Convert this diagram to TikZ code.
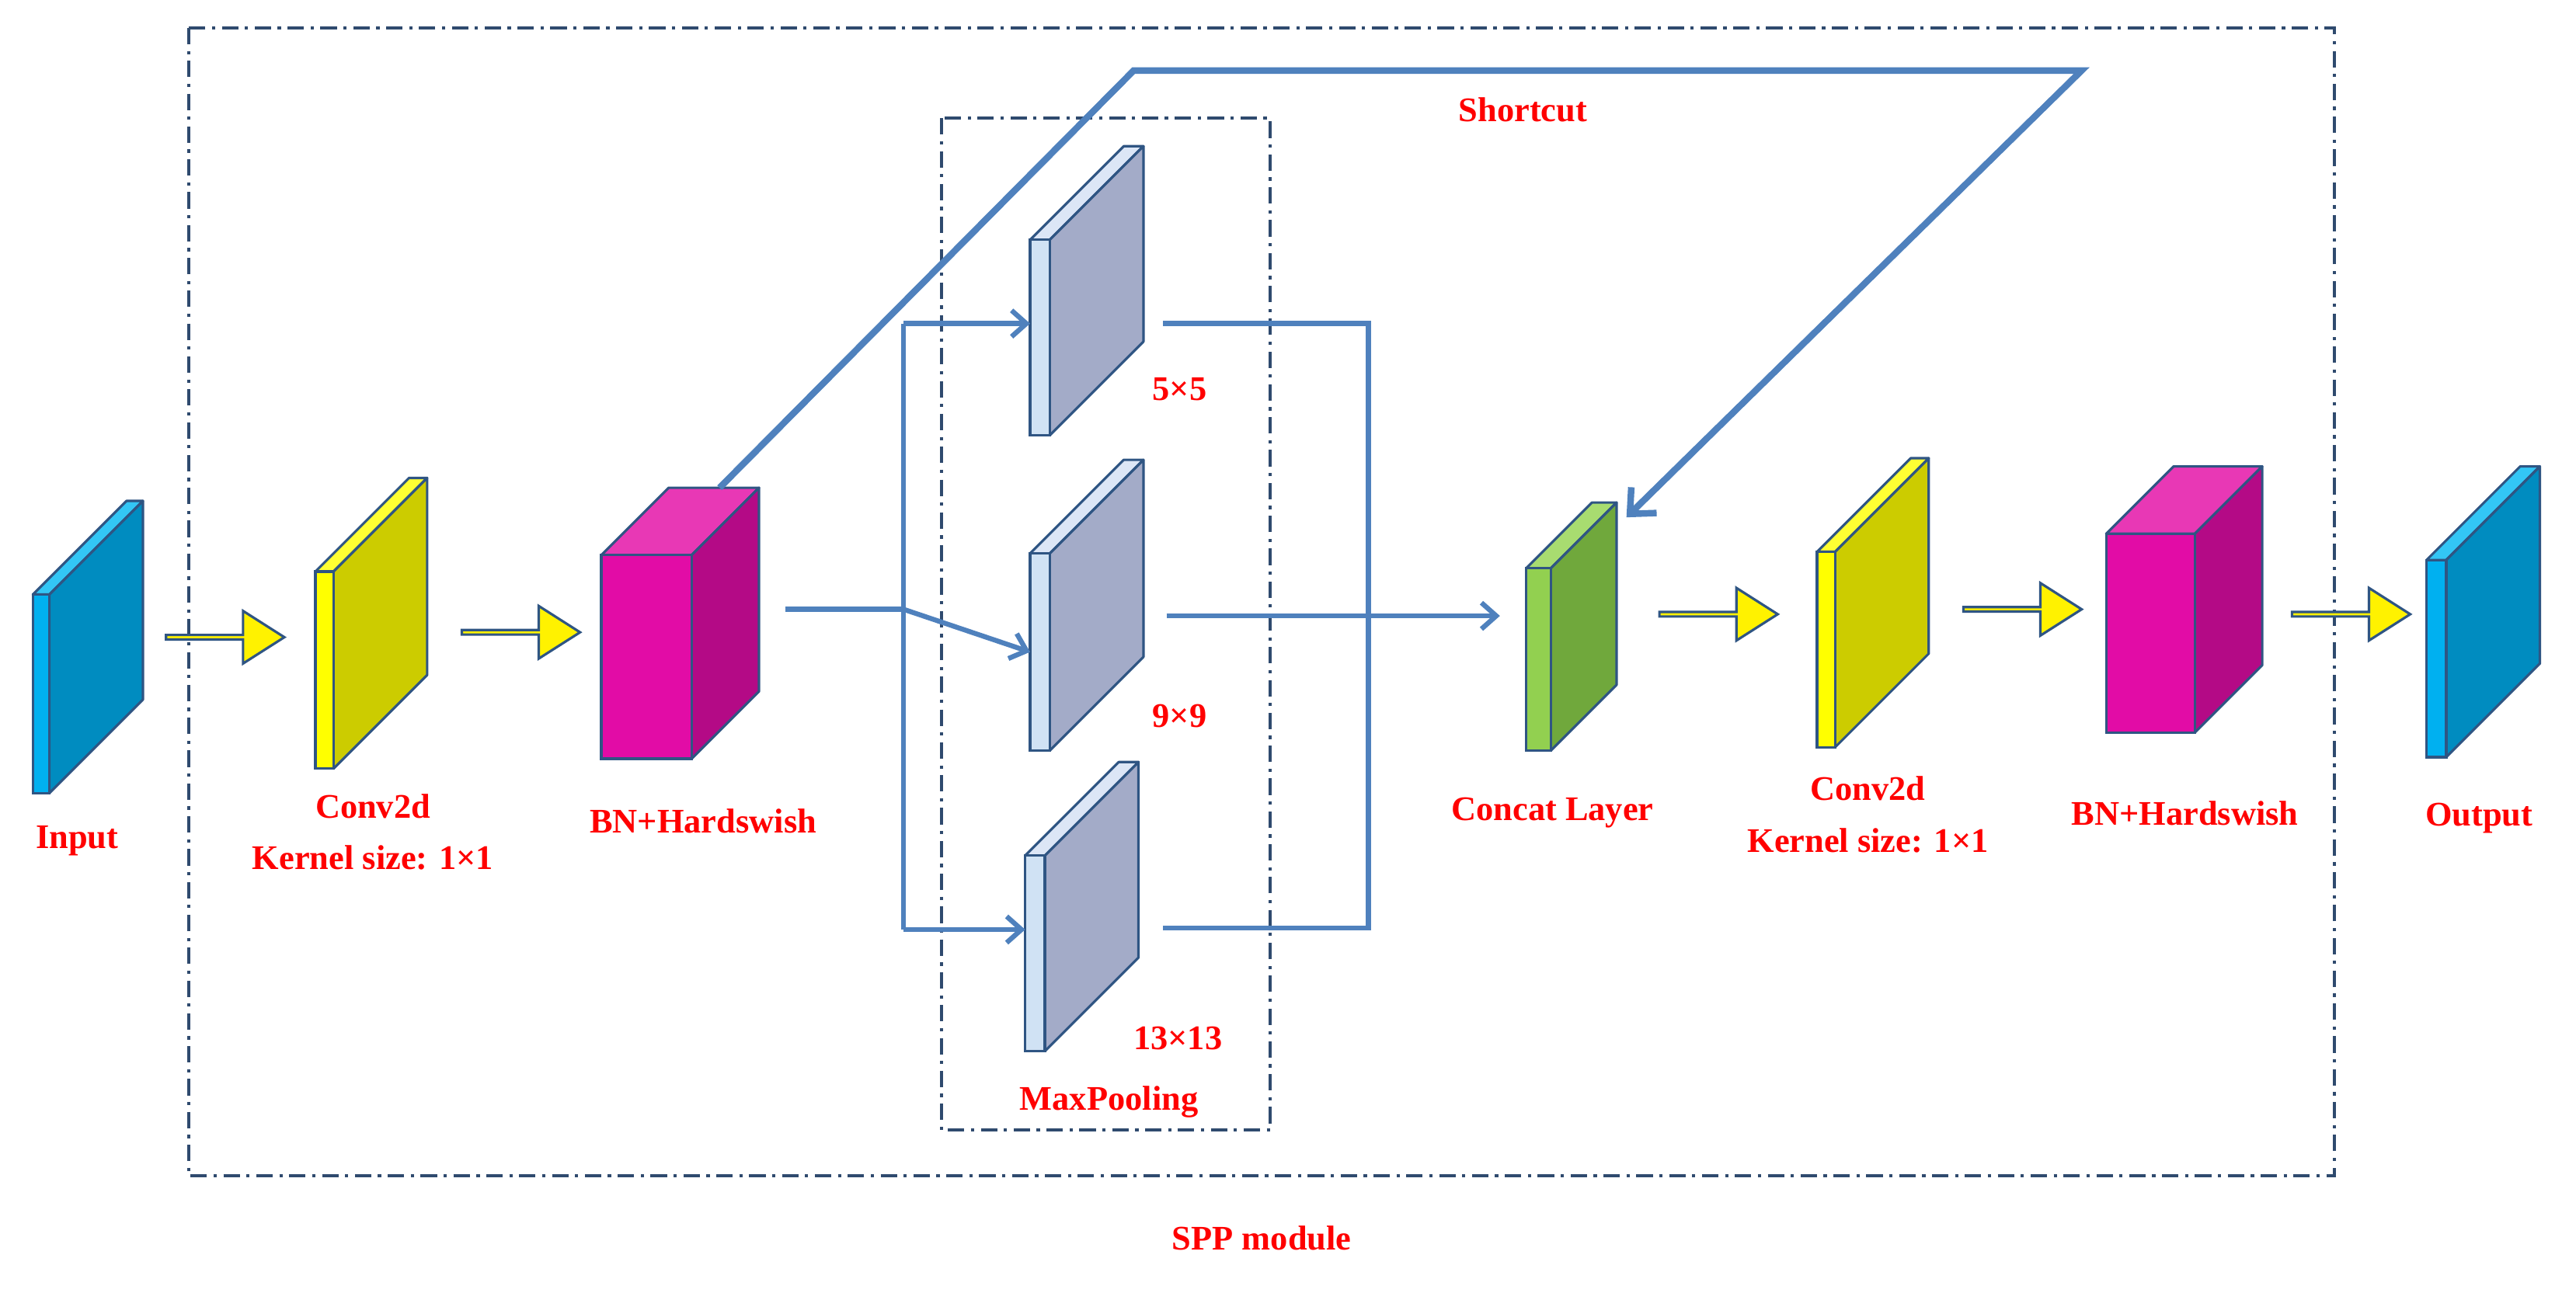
\documentclass[tikz,border=0pt]{standalone}
\usepackage{fontspec}
\setmainfont{Liberation Serif}
\usetikzlibrary{shapes.arrows,arrows.meta}
\definecolor{edge}{HTML}{2F5583}
\definecolor{dd}{HTML}{2F4A6E}
\definecolor{lb}{HTML}{4F81BD}
\definecolor{tred}{HTML}{FF0000}
\definecolor{cyF}{HTML}{00B0F0}\definecolor{cyS}{HTML}{008CC0}\definecolor{cyT}{HTML}{33C6F5}
\definecolor{yeF}{HTML}{FFFF00}\definecolor{yeS}{HTML}{CCCC00}\definecolor{yeT}{HTML}{FFFF33}
\definecolor{mgF}{HTML}{E20CA6}\definecolor{mgS}{HTML}{B40A86}\definecolor{mgT}{HTML}{E838B5}
\definecolor{plF}{HTML}{D0E2F4}\definecolor{plS}{HTML}{A3ABC8}\definecolor{plT}{HTML}{DCE6F6}
\definecolor{grF}{HTML}{92D050}\definecolor{grS}{HTML}{70A83C}\definecolor{grT}{HTML}{A8DC70}
\begin{document}
\begin{tikzpicture}[x=1pt,y=-1pt,
  lbl/.style={text=tred,font=\bfseries\fontsize{21}{23}\selectfont,inner sep=0},
  yarrow/.style={single arrow,fill=yellow,draw=edge,line width=1.5pt,minimum height=72pt,minimum width=32pt,single arrow head extend=8pt,single arrow tip angle=65,inner sep=0},
  conn/.style={draw=lb,line width=3pt},
  ddash/.style={draw=dd,line width=2pt,dash pattern=on 10pt off 4pt on 2pt off 4pt}]
\useasboundingbox (0,0) rectangle (1568,787);
\newcommand\slab[9]{%
  \filldraw[fill=#9,draw=edge,line width=1.5pt,line join=round] (#2,#3) -- ++(#6,-#6) -- ++(#4,0) -- ({#2+#4},#3) -- cycle;
  \filldraw[fill=#8,draw=edge,line width=1.5pt,line join=round] ({#2+#4},#3) -- ++(#6,-#6) -- ++(0,#5) -- ({#2+#4},{#3+#5}) -- cycle;
  \node[draw=edge,fill=#7,line width=1.5pt,minimum width=#4pt,minimum height=#5pt,inner sep=0,outer sep=0,anchor=north west] (#1) at (#2,#3) {};}
% boxes
\draw[ddash] (115,17) rectangle (1421,716);
\draw[ddash] (573,72) rectangle (773,688);
% slabs
\slab{in}{20}{362}{10}{121}{57}{cyF}{cyS}{cyT}
\slab{cv1}{192}{348}{11}{120}{57}{yeF}{yeS}{yeT}
\slab{bn1}{366}{338}{55}{124}{41}{mgF}{mgS}{mgT}
\slab{p1}{627}{146}{12}{119}{57}{plF}{plS}{plT}
\slab{p2}{627}{337}{12}{120}{57}{plF}{plS}{plT}
\slab{p3}{624}{521}{12}{119}{57}{plF}{plS}{plT}
\slab{cc}{929}{346}{15}{111}{40}{grF}{grS}{grT}
\slab{cv2}{1106}{336}{11}{119}{57}{yeF}{yeS}{yeT}
\slab{bn2}{1282}{325}{54}{121}{41}{mgF}{mgS}{mgT}
\slab{out}{1477}{341}{12}{120}{57}{cyF}{cyS}{cyT}
% yellow arrows
\node[yarrow] (a1) at (136,388) {};
\node[yarrow] (a2) at (316,385) {};
\node[yarrow] (a3) at (1045,374) {};
\node[yarrow] (a4) at (1230,371) {};
\node[yarrow] (a5) at (1430,374) {};
% connectors
\coordinate (s0) at (478,371);
\coordinate (j) at (550,371);
\coordinate (jt) at (550,197);
\coordinate (jb) at (550,566);
\coordinate (o1) at (708,197);
\coordinate (o2) at (710,375);
\coordinate (o3) at (708,565);
\coordinate (k1) at (833,197);
\coordinate (k3) at (833,565);
\coordinate (cin) at (913,375);
\draw[conn] (s0) -- (j);
\draw[conn,-{Straight Barb[length=9pt,width=16pt]}] (j) -- (p2.west);
\draw[conn,-{Straight Barb[length=9pt,width=16pt]}] (jt) -- (jt -| p1.west);
\draw[conn,-{Straight Barb[length=9pt,width=16pt]}] (jb) -- (jb -| p3.west);
\draw[conn] (jt) -- (jb);
\draw[conn] (o1) -- (k1) -- (k3) -- (o3);
\draw[conn,-{Straight Barb[length=9pt,width=16pt]}] (o2) -- (cin);
\coordinate (sc0) at (438,297);
\coordinate (sc1) at (690,43);
\coordinate (sc2) at (1267,43);
\coordinate (sc3) at (990,315);
\draw[conn,line width=4pt,-{Straight Barb[length=12pt,width=22pt]}] (sc0) -- (sc1) -- (sc2) -- (sc3);
% labels
\node[lbl] (t1) at (47,512) {Input};
\node[lbl] (t2) at (227,491) {Conv2d};
\node[lbl] (t3) at (227,522) {Kernel size: 1×1};
\node[lbl] (t4) at (428,500) {BN+Hardswish};
\node[lbl] (t5) at (718,237) {5×5};
\node[lbl] (t6) at (718,436) {9×9};
\node[lbl] (t7) at (717,632) {13×13};
\node[lbl] (t8) at (675,671) {MaxPooling};
\node[lbl] (t9) at (927,67) {Shortcut};
\node[lbl] (t10) at (945,495) {Concat Layer};
\node[lbl] (t11) at (1137,480) {Conv2d};
\node[lbl] (t12) at (1137,512) {Kernel size: 1×1};
\node[lbl] (t13) at (1330,495) {BN+Hardswish};
\node[lbl] (t14) at (1509,498) {Output};
\node[lbl] (t15) at (768,754) {SPP module};
\end{tikzpicture}
\end{document}
